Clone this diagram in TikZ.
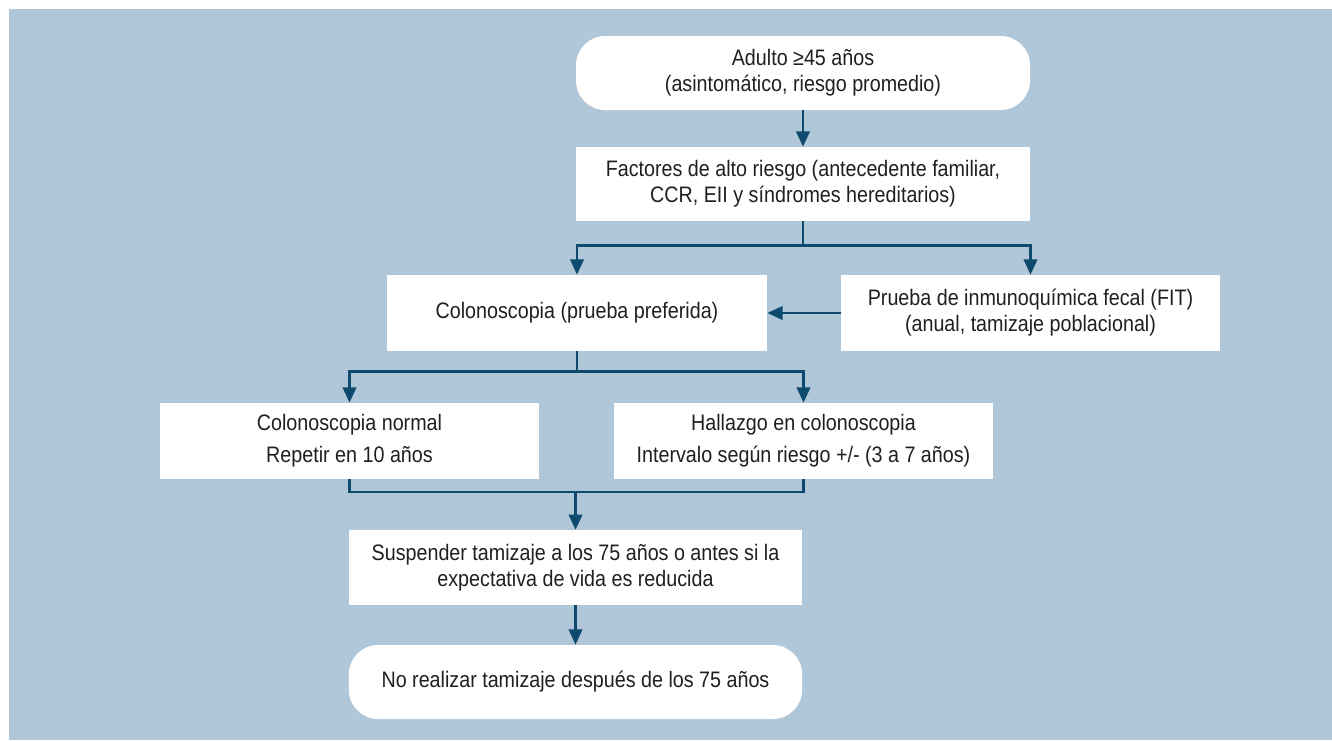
\documentclass[tikz,border=0pt]{standalone}
\usepackage{fontspec}
\setmainfont{Liberation Sans}[FakeStretch=0.88]
\usetikzlibrary{arrows.meta}
\definecolor{panelblue}{HTML}{B0C6D9}
\definecolor{linkblue}{HTML}{0D4A6E}
\definecolor{textgray}{HTML}{231F20}

\begin{document}
\begin{tikzpicture}[x=0.75pt, y=-0.75pt]
	\tikzset{box/.style={fill=white, inner sep=0pt, align=center, text=textgray,
			font=\fontsize{16.8}{19.5}\selectfont},
		rbox/.style={box, rounded corners=22pt},
		wide/.style={font=\fontsize{16.8}{24}\selectfont},
		link/.style={draw=linkblue, line width=2pt},
		arr/.style={link, -{Triangle[length=11.5pt, width=10pt]}}}
	
	\useasboundingbox (0,0) rectangle (1332,740);
	\fill[panelblue] (9,9) rectangle (1332,740);
	
	\node[rbox, minimum width=340.5pt, minimum height=55.5pt] (adulto) at (803,73) {Adulto ≥45 años\\(asintomático, riesgo promedio)};
	\node[box, minimum width=340.5pt, minimum height=55.5pt] (factores) at (803,184) {Factores de alto riesgo (antecedente familiar,\\CCR, EII y síndromes hereditarios)};
	\node[box, minimum width=285pt, minimum height=57pt] (colono) at (577,313) {Colonoscopia (prueba preferida)};
	\node[box, minimum width=284pt, minimum height=57pt] (fit) at (1030.5,313) {Prueba de inmunoquímica fecal (FIT)\\(anual, tamizaje poblacional)};
	\node[box, wide, minimum width=284pt, minimum height=57pt] (normal) at (349.5,441) {Colonoscopia normal\\Repetir en 10 años};
	\node[box, wide, minimum width=284pt, minimum height=57pt] (hallazgo) at (803.5,441) {Hallazgo en colonoscopia\\Intervalo según riesgo +/- (3 a 7 años)};
	\node[box, minimum width=340pt, minimum height=56pt] (suspender) at (575.5,567.5) {Suspender tamizaje a los 75 años o antes si la\\expectativa de vida es reducida};
	\node[rbox, minimum width=340pt, minimum height=55.5pt] (final) at (575.5,682) {No realizar tamizaje después de los 75 años};
	\coordinate (merge) at (575.5,492);
	
	\draw[arr] (adulto) -- (factores);
	\draw[arr] (factores.south) -- ++(0,24) -| (colono.north);
	\draw[arr] (factores.south) -- ++(0,24) -| (fit.north);
	\draw[arr] (fit) -- (colono);
	\draw[arr] (colono.south) -- ++(0,20) -| (normal.north);
	\draw[arr] (colono.south) -- ++(0,20) -| (hallazgo.north);
	\draw[link] (normal.south) |- (merge) -| (hallazgo.south);
	\draw[arr] (merge) -- (suspender);
	\draw[arr] (suspender) -- (final);
	
\end{tikzpicture}
\end{document}
